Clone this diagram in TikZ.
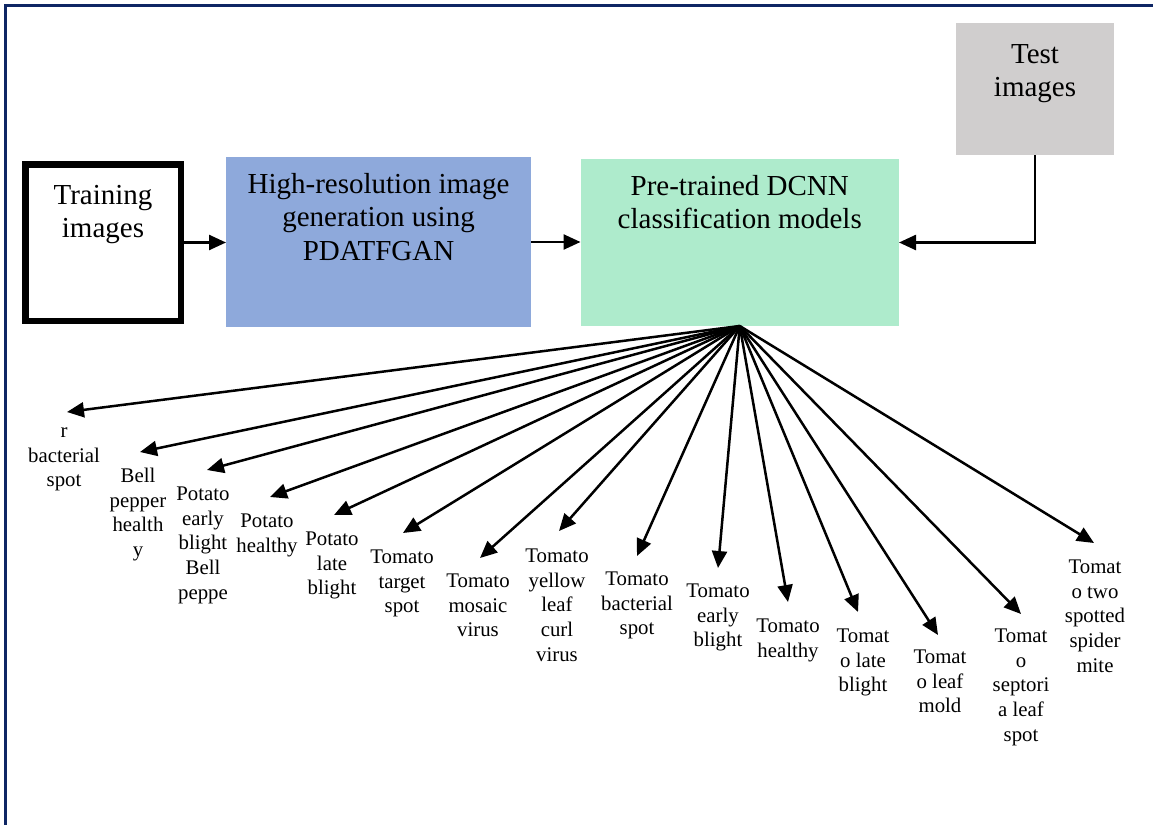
\documentclass[tikz,border=0pt]{standalone}
\usepackage{fontspec}
\setmainfont{Liberation Serif}
\usetikzlibrary{arrows.meta,calc}
\definecolor{framenavy}{RGB}{14,38,100}
\definecolor{genblue}{RGB}{142,169,219}
\definecolor{clsgreen}{RGB}{174,235,204}
\definecolor{testgray}{RGB}{208,206,206}

\begin{document}
\begin{tikzpicture}[x=1pt,y=-1pt,
  stagebox/.style={inner sep=0pt, outer sep=0pt},
  boxtext/.style={anchor=north, inner sep=0pt, align=center,
    font=\fontsize{29}{33.5}\selectfont},
  classtext/.style={anchor=north, inner sep=0pt, align=center,
    font=\fontsize{20.8}{24.8}\selectfont},
  arr/.style={line width=2.5pt, -{Triangle[length=17pt,width=15pt]}}
]
\useasboundingbox (0,0) rectangle (1153,824);

% page frame (left and top edges)
\draw[framenavy, line width=2.2pt] (5.5,830) -- (5.5,5.5) -- (1160,5.5);

% processing stages
\node[stagebox, draw=black, line width=6.5pt, fill=white,
      minimum width=155.5pt, minimum height=156.5pt] (train) at (103,242.5) {};
\node[boxtext] (traintxt) at (103,180.5) {\strut Training\\images};

\node[stagebox, fill=genblue, minimum width=305pt, minimum height=170pt]
  (gen) at (378.5,242) {};
\node[boxtext] (gentxt) at (378.5,169.5)
  {\strut High-resolution image\\generation using\\PDATFGAN};

\node[stagebox, fill=clsgreen, minimum width=318.5pt, minimum height=167pt]
  (cls) at (739.75,242.5) {};
\node[boxtext] (clstxt) at (739.75,171.5)
  {\strut Pre-trained DCNN\\classification models};

\node[stagebox, fill=testgray, minimum width=158pt, minimum height=132pt]
  (test) at (1035,89) {};
\node[boxtext] (testtxt) at (1035,39.5) {\strut Test\\images};

% flow between stages
\draw[arr] (train.east) -- (train.east -| gen.west);
\draw[arr] (gen.east) -- (gen.east -| cls.west);
\draw[arr] (test.south) |- (cls.east);

% fan of output classes
\coordinate (fan) at (cls.south);
\foreach \tx/\ty/\lx/\lb/\txt [count=\i] in {
  67/412/64/437/{r\\bacterial\\spot},
  140/452/138/482/{Bell\\pepper\\health\\y},
  207/470/203/500/{Potato\\early\\blight\\Bell\\peppe},
  270/497/267/527/{Potato\\healthy},
  334/515/332/545/{Potato\\late\\blight},
  403/533/402/563/{Tomato\\target\\spot},
  480/558/478/587/{Tomato\\mosaic\\virus},
  559/531/557/562/{Tomato\\yellow\\leaf\\curl\\virus},
  637/556/637/585/{Tomato\\bacterial\\spot},
  718/568/718/597/{Tomato\\early\\blight},
  788/602/788/632/{Tomato\\healthy},
  858/612/863/642/{Tomat\\o late\\blight},
  938/635/940/663/{Tomat\\o leaf\\mold},
  1021/614/1021/642/{Tomat\\o\\septori\\a leaf\\spot},
  1094/543/1095/573/{Tomat\\o two\\spotted\\spider\\mite}}
{
  \coordinate (tip\i) at (\tx,\ty);
  \node[classtext] (class\i) at (\lx,\lb-17.36) {\strut\txt};
  \draw[arr] (fan) -- (tip\i);
}
\end{tikzpicture}
\end{document}
